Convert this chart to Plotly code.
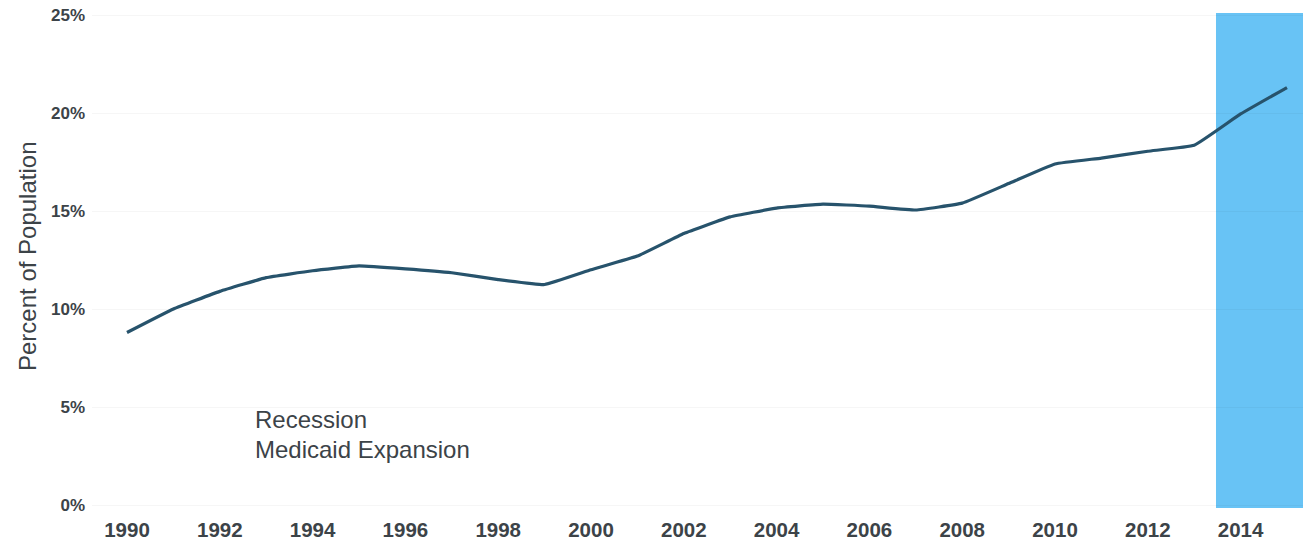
import plotly.graph_objects as go

years = list(range(1990, 2016))
percent = [8.8, 10.0, 10.9, 11.6, 11.95, 12.2, 12.05, 11.85, 11.5, 11.25,
           12.0, 12.7, 13.85, 14.7, 15.15, 15.35, 15.25, 15.05, 15.4, 16.4,
           17.4, 17.7, 18.05, 18.35, 19.95, 21.3]

x_ticks = list(range(1990, 2015, 2))
y_ticks = [0, 5, 10, 15, 20, 25]
y_tick_labels = ["0%", "5%", "10%", "15%", "20%", "25%"]

legend_labels = ["Recession", "Medicaid Expansion"]
highlight_start = 2013.47

TEXT = "#3c4348"
FONT = "Liberation Sans, Arial, sans-serif"

W, H = 1303, 542
L, R, T, B = 92, 0, 10, 32
plot_w = W - L - R
plot_h = H - T - B

fig = go.Figure()
fig.add_trace(go.Scatter(
    x=years, y=percent, mode="lines",
    line=dict(color="#27536c", width=3.2, shape="spline", smoothing=0.3),
    showlegend=False, hoverinfo="skip"))

x_range = [1989.246, 1989.246 + plot_w / 46.4]
y_range = [-0.255, 25.255]

fig.add_shape(type="rect", xref="x", yref="y",
              x0=highlight_start, x1=x_range[1] + 1, y0=-0.15, y1=25.1,
              fillcolor="#68c3f5", line=dict(width=0), layer="below")

for i, lab in enumerate(legend_labels):
    fig.add_annotation(x=1992.72, y=4.34 - i * 1.53, xref="x", yref="y",
                       text=lab, showarrow=False, xanchor="left", yanchor="middle",
                       font=dict(family=FONT, size=24, color=TEXT))

fig.add_annotation(x=(27 - L) / plot_w, y=(H - B - 256) / plot_h,
                   xref="paper", yref="paper", text="Percent of Population",
                   showarrow=False, textangle=-90, xanchor="center", yanchor="middle",
                   font=dict(family=FONT, size=24, color=TEXT))

fig.update_layout(
    width=W, height=H,
    margin=dict(l=L, r=R, t=T, b=B),
    paper_bgcolor="white", plot_bgcolor="white",
    showlegend=False,
    xaxis=dict(range=x_range, tickvals=x_ticks, showgrid=False, zeroline=False,
               showline=False, ticks="", ticklabelstandoff=5,
               tickfont=dict(family=FONT, size=20.5, color=TEXT, weight="bold")),
    yaxis=dict(range=y_range, tickvals=y_ticks, ticktext=y_tick_labels,
               showgrid=True, gridcolor="rgba(0,0,0,0.035)", zeroline=False,
               showline=False, ticks="", ticklabelstandoff=6,
               tickfont=dict(family=FONT, size=17, color=TEXT, weight="bold")),
)

fig.write_html("out.html",
               config={"displayModeBar": False},
               post_script="document.body.style.margin='0';document.body.style.overflow='hidden';")
